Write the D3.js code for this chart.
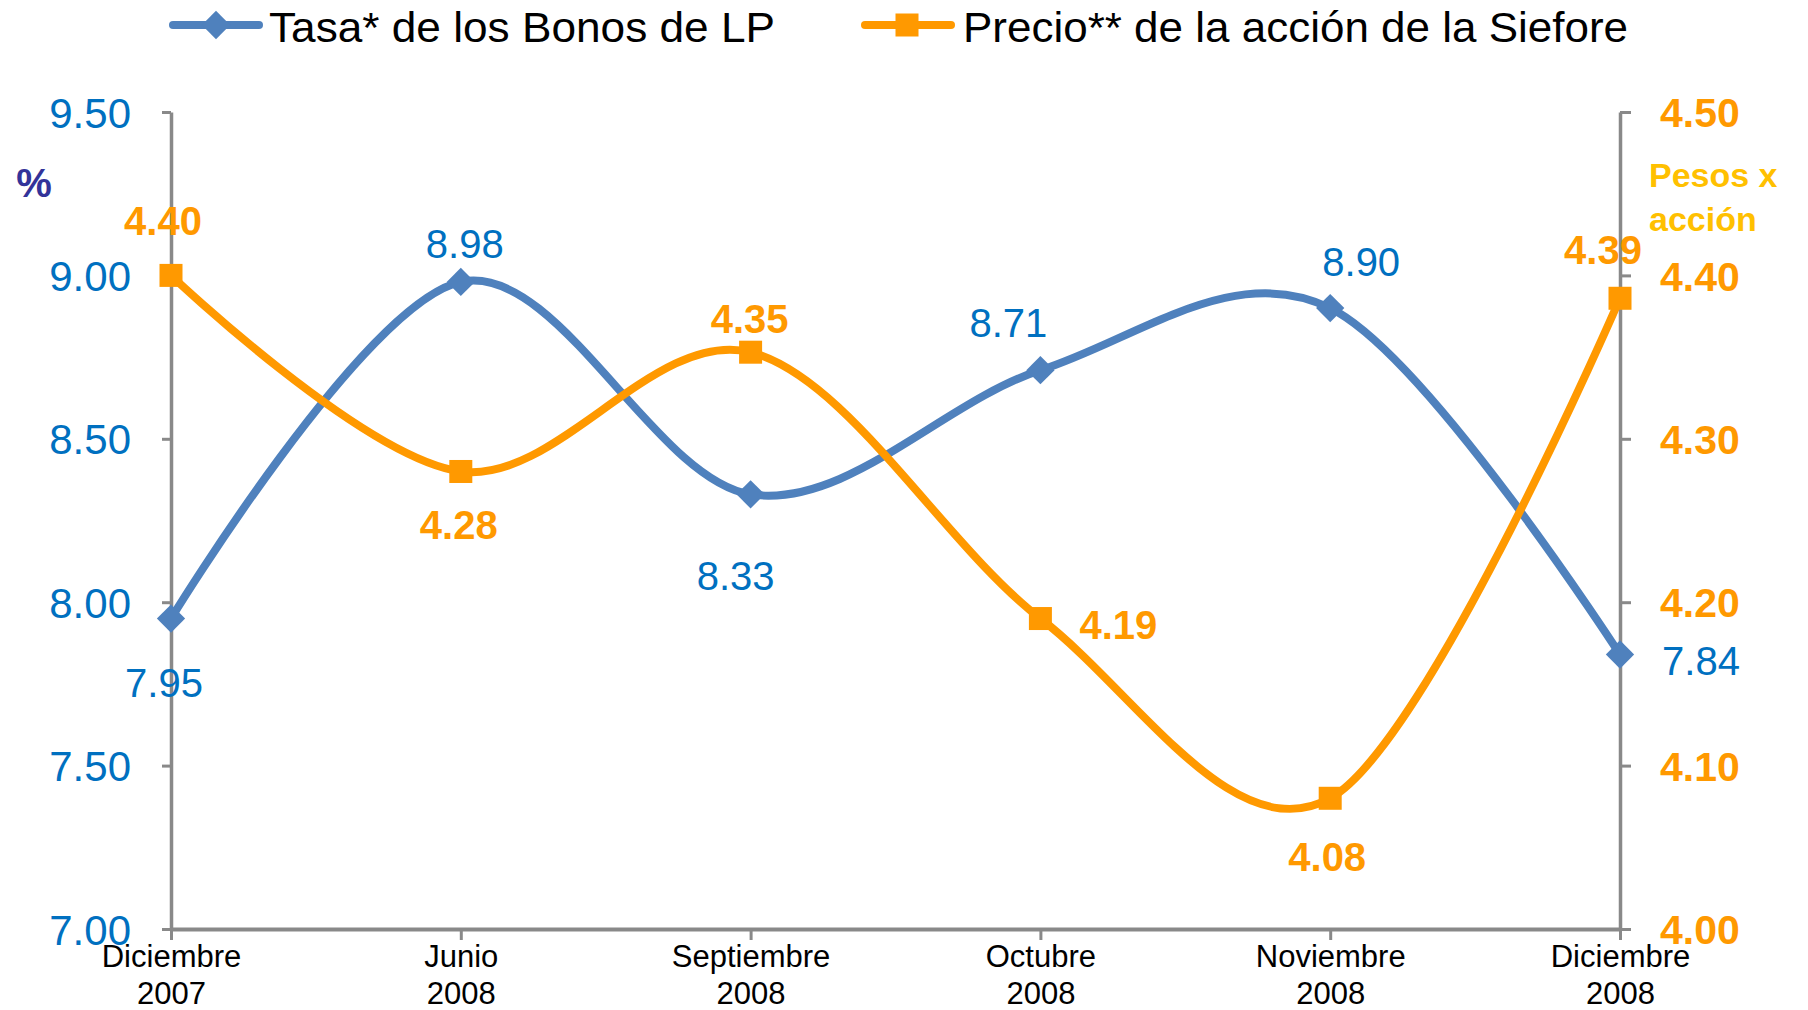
<!DOCTYPE html>
<html lang="es">
<head>
    <meta charset="UTF-8">
    <script src="https://d3js.org/d3.v7.min.js"></script>
    <style>
        body { margin: 0; background: #fff; }
        text { font-family: "Liberation Sans", Arial, sans-serif; }
    </style>
</head>
<body>
    <svg id="chart" width="1808" height="1010"></svg>
    <script>
        // Datos
        const categorias = [
            ["Diciembre", "2007"], ["Junio", "2008"], ["Septiembre", "2008"],
            ["Octubre", "2008"], ["Noviembre", "2008"], ["Diciembre", "2008"]
        ];
        const tasaBonos = [7.95, 8.98, 8.33, 8.71, 8.90, 7.84];
        const precioAccion = [4.40, 4.28, 4.353, 4.19, 4.08, 4.386];
        const ticksIzq = [7.00, 7.50, 8.00, 8.50, 9.00, 9.50];
        const ticksDer = [4.00, 4.10, 4.20, 4.30, 4.40, 4.50];

        // desplazamiento de las etiquetas de datos (px)
        const offTasa = [[-7, 64], [4, -38], [-15, 81], [-32, -48], [31, -46], [81, 6]];
        const offPrecio = [[-8, -55], [-2, 53], [-1, -34], [78, 6], [-3, 58], [-17, -49]];

        const width = 1808, height = 1010;
        const margin = { top: 112, right: 188, bottom: 81, left: 171 };
        const azul = "#4F81BD", azulTxt = "#0070C0", naranja = "#FF9900", gris = "#898989";

        const svg = d3.select("#chart");

        const x = d3.scalePoint()
            .domain(d3.range(categorias.length))
            .range([margin.left, width - margin.right])
            .padding(0);

        const yIzq = d3.scaleLinear().domain([7, 9.5]).range([height - margin.bottom, margin.top]);
        const yDer = d3.scaleLinear().domain([4, 4.5]).range([height - margin.bottom, margin.top]);

        // Eje izquierdo
        const gIzq = svg.append("g")
            .attr("transform", `translate(${margin.left},0)`)
            .call(d3.axisLeft(yIzq).tickValues(ticksIzq).tickFormat(d3.format(".2f")).tickSizeInner(9).tickSizeOuter(0).tickPadding(31));
        gIzq.select(".domain").attr("stroke", gris).attr("stroke-width", 3.5);
        gIzq.selectAll(".tick line").attr("stroke", gris).attr("stroke-width", 3);
        gIzq.selectAll(".tick text").attr("fill", azulTxt).style("font-size", "42px").attr("dy", "0.36em");

        // Eje derecho
        const gDer = svg.append("g")
            .attr("transform", `translate(${width - margin.right},0)`)
            .call(d3.axisRight(yDer).tickValues(ticksDer).tickFormat(d3.format(".2f")).tickSizeInner(11).tickSizeOuter(0).tickPadding(29));
        gDer.select(".domain").attr("stroke", gris).attr("stroke-width", 3.5);
        gDer.selectAll(".tick line").attr("stroke", gris).attr("stroke-width", 3);
        gDer.selectAll(".tick text").attr("fill", naranja).style("font-size", "41px")
            .style("font-weight", "bold").attr("dy", "0.36em");

        // Eje inferior
        const gX = svg.append("g")
            .attr("transform", `translate(0,${height - margin.bottom})`)
            .call(d3.axisBottom(x).tickSizeInner(11).tickSizeOuter(0).tickFormat(""));
        gX.select(".domain").attr("stroke", gris).attr("stroke-width", 4);
        gX.selectAll(".tick line").attr("stroke", gris).attr("stroke-width", 3);
        gX.selectAll(".tick").each(function(i) {
            const t = d3.select(this).append("text")
                .attr("fill", "#000").attr("text-anchor", "middle")
                .style("font-size", "31px");
            t.append("tspan").attr("x", 0).attr("y", 38).text(categorias[i][0]);
            t.append("tspan").attr("x", 0).attr("y", 75).text(categorias[i][1]);
        });

        // Títulos de ejes
        svg.append("text").attr("x", 34).attr("y", 197).attr("text-anchor", "middle")
            .attr("fill", "#333399").style("font-size", "40px").style("font-weight", "bold").text("%");
        svg.append("text").attr("x", 1649).attr("y", 187)
            .attr("fill", "#FFC000").style("font-size", "34px").style("font-weight", "bold").text("Pesos x");
        svg.append("text").attr("x", 1649).attr("y", 231)
            .attr("fill", "#FFC000").style("font-size", "34px").style("font-weight", "bold").text("acción");

        const curva = d3.curveCardinal.tension(0);

        // Serie Tasa
        svg.append("path")
            .datum(tasaBonos)
            .attr("fill", "none").attr("stroke", azul).attr("stroke-width", 8).attr("stroke-linejoin", "round")
            .attr("d", d3.line().x((d, i) => x(i)).y(d => yIzq(d)).curve(curva));

        // Serie Precio
        svg.append("path")
            .datum(precioAccion)
            .attr("fill", "none").attr("stroke", naranja).attr("stroke-width", 8).attr("stroke-linejoin", "round")
            .attr("d", d3.line().x((d, i) => x(i)).y(d => yDer(d)).curve(curva));

        const diamante = d3.symbol().type(d3.symbolSquare).size(400);

        svg.selectAll(".mk-tasa")
            .data(tasaBonos)
            .enter().append("path")
            .attr("class", "mk-tasa")
            .attr("d", diamante)
            .attr("transform", (d, i) => `translate(${x(i)},${yIzq(d)}) rotate(45)`)
            .attr("fill", azul);

        svg.selectAll(".mk-precio")
            .data(precioAccion)
            .enter().append("rect")
            .attr("class", "mk-precio")
            .attr("x", (d, i) => x(i) - 11.5).attr("y", d => yDer(d) - 11.5)
            .attr("width", 23).attr("height", 23)
            .attr("fill", naranja);

        // Etiquetas de datos
        svg.selectAll(".lb-tasa")
            .data(tasaBonos)
            .enter().append("text")
            .attr("class", "lb-tasa")
            .attr("x", (d, i) => x(i) + offTasa[i][0])
            .attr("y", (d, i) => yIzq(d) + offTasa[i][1])
            .attr("dy", "0.36em").attr("text-anchor", "middle")
            .attr("fill", azulTxt).style("font-size", "40px")
            .text(d => d.toFixed(2));

        svg.selectAll(".lb-precio")
            .data(precioAccion)
            .enter().append("text")
            .attr("class", "lb-precio")
            .attr("x", (d, i) => x(i) + offPrecio[i][0])
            .attr("y", (d, i) => yDer(d) + offPrecio[i][1])
            .attr("dy", "0.36em").attr("text-anchor", "middle")
            .attr("fill", naranja).style("font-size", "40px").style("font-weight", "bold")
            .text(d => d.toFixed(2));

        // Leyenda
        const ley = svg.append("g");
        ley.append("line").attr("x1", 173).attr("x2", 259).attr("y1", 25).attr("y2", 25)
            .attr("stroke", azul).attr("stroke-width", 8).attr("stroke-linecap", "round");
        ley.append("path").attr("d", diamante).attr("transform", "translate(216,25) rotate(45)").attr("fill", azul);
        ley.append("text").attr("x", 269).attr("y", 27).attr("dy", "0.36em")
            .attr("textLength", 506).attr("lengthAdjust", "spacingAndGlyphs")
            .style("font-size", "42px").attr("fill", "#000").text("Tasa*  de los Bonos de LP");

        ley.append("line").attr("x1", 865).attr("x2", 951).attr("y1", 25).attr("y2", 25)
            .attr("stroke", naranja).attr("stroke-width", 8).attr("stroke-linecap", "round");
        ley.append("rect").attr("x", 895.5).attr("y", 13.5).attr("width", 23).attr("height", 23).attr("fill", naranja);
        ley.append("text").attr("x", 963).attr("y", 27).attr("dy", "0.36em")
            .attr("textLength", 665).attr("lengthAdjust", "spacingAndGlyphs")
            .style("font-size", "42px").attr("fill", "#000").text("Precio** de la acción de la Siefore");
    </script>
</body>
</html>
